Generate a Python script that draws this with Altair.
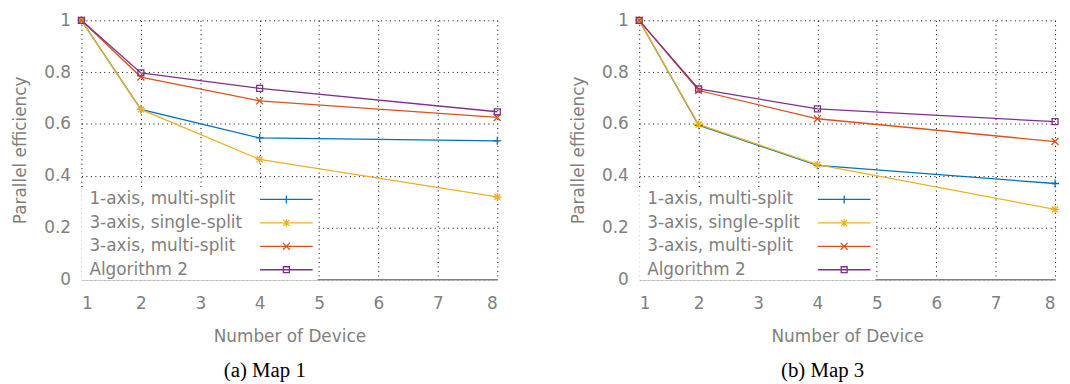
import re
import altair as alt
import pandas as pd

# ---------------- data ----------------
devices = [1, 2, 4, 8]
series_names = ["1-axis, multi-split", "3-axis, single-split",
                "3-axis, multi-split", "Algorithm 2"]

map1_one_axis_multi = [1.0, 0.656, 0.546, 0.535]
map1_three_axis_single = [1.0, 0.656, 0.463, 0.318]
map1_three_axis_multi = [1.0, 0.781, 0.689, 0.625]
map1_algorithm2 = [1.0, 0.797, 0.737, 0.647]

map3_one_axis_multi = [1.0, 0.595, 0.440, 0.370]
map3_three_axis_single = [1.0, 0.598, 0.443, 0.270]
map3_three_axis_multi = [1.0, 0.729, 0.620, 0.532]
map3_algorithm2 = [1.0, 0.735, 0.658, 0.609]

x_ticks = [1, 2, 3, 4, 5, 6, 7, 8]
y_ticks = [0, 0.2, 0.4, 0.6, 0.8, 1]
captions = ["(a) Map 1", "(b) Map 3"]

colors = ["#0072bd", "#edb120", "#d95319", "#7e2f8e"]

# marker glyphs (unit = sqrt(size)/2 px)
marker_paths = [
    "M0,-2V2M-2,0H2",
    "M0,-2V2M-2,0H2M-1.5,-1.5L1.5,1.5M-1.5,1.5L1.5,-1.5",
    "M-1.75,-1.75L1.75,1.75M-1.75,1.75L1.75,-1.75",
    "M-1.5,-1.5H1.5V1.5H-1.5Z",
]
# legend glyphs: line sample with marker, drawn to the right of the label
SH = 98
HL = 13.25


def shift(path):
    out = []
    tokens = re.findall(r"[MLHVZ]|-?\d+(?:\.\d+)?", path)
    i = 0
    cmd = None
    while i < len(tokens):
        t = tokens[i]
        if t in "MLHVZ":
            cmd = t
            out.append(t)
            i += 1
            continue
        if cmd in ("M", "L"):
            out.append(f"{float(tokens[i]) + SH:g},{float(tokens[i + 1]):g}")
            i += 2
        elif cmd == "H":
            out.append(f"{float(t) + SH:g}")
            i += 1
        else:
            out.append(f"{float(t):g}")
            i += 1
    return "".join(out)


legend_paths = [f"M{SH-HL:g},0H{SH+HL:g}" + shift(p) for p in marker_paths]

GRAY = "#7f7f7f"
FONT = "DejaVu Sans"
FS = 17


def make_df(vals):
    rows = []
    for name, ys in zip(series_names, vals):
        for d, v in zip(devices, ys):
            rows.append({"device": d, "eff": v, "series": name})
    return pd.DataFrame(rows)


def panel(vals, caption):
    df = make_df(vals)
    color_scale = alt.Scale(domain=series_names, range=colors)
    base = alt.Chart(df).encode(
        x=alt.X("device:Q", title="Number of Device",
                scale=alt.Scale(domain=[1, 8], nice=False, zero=False),
                axis=alt.Axis(values=x_ticks, format="d", grid=True,
                              gridDash=[1, 3.5], gridColor="#000000",
                              gridOpacity=1, ticks=False, tickSize=0,
                              domainColor="#808080", domainWidth=1.5,
                              labelPadding=16, titlePadding=18)),
        y=alt.Y("eff:Q", title="Parallel efficiency",
                scale=alt.Scale(domain=[0, 1], nice=False),
                axis=alt.Axis(values=y_ticks, format="~g", grid=True,
                              gridDash=[1, 3.5], gridColor="#000000",
                              gridOpacity=1, ticks=False, tickSize=0,
                              domain=False, labelPadding=11,
                              titlePadding=14)),
    )
    lines = base.mark_line(strokeWidth=1.3).encode(
        color=alt.Color("series:N", scale=color_scale, legend=None))
    pts = base.mark_point(filled=False, size=16, strokeWidth=1.3,
                          opacity=1).encode(
        color=alt.Color("series:N", scale=color_scale, legend=None),
        shape=alt.Shape("series:N",
                        scale=alt.Scale(domain=series_names,
                                        range=marker_paths),
                        legend=None))
    leg = alt.Legend(orient="none", legendX=0, legendY=170, title=None,
                     padding=2, fillColor="white", symbolSize=16,
                     symbolStrokeWidth=1.3, symbolOpacity=1,
                     labelFont=FONT, labelFontSize=FS, labelColor=GRAY,
                     labelLimit=400, labelOffset={"expr": "-11"},
                     rowPadding=5.6)
    # legend-only layer: no rows drawn, entries come from the scale domain
    legend_layer = base.mark_point(filled=False, strokeWidth=1.3).encode(
        color=alt.Color("series:N", scale=color_scale, legend=leg),
        shape=alt.Shape("series:N",
                        scale=alt.Scale(domain=series_names,
                                        range=legend_paths),
                        legend=leg)).transform_filter("datum.eff > 2")
    return alt.layer(lines, pts, legend_layer).resolve_scale(
        color="independent", shape="independent"
    ).properties(
        width=419, height=261,
        title=alt.TitleParams(caption, orient="bottom", anchor="middle",
                              frame="bounds", font="Liberation Serif",
                              fontSize=21, fontWeight="normal",
                              color="#000000", offset=15, dx=7),
    )


p1 = panel([map1_one_axis_multi, map1_three_axis_single,
            map1_three_axis_multi, map1_algorithm2], captions[0])
p2 = panel([map3_one_axis_multi, map3_three_axis_single,
            map3_three_axis_multi, map3_algorithm2], captions[1])

chart = alt.hconcat(p1, p2, spacing=65).resolve_scale(
    color="independent", shape="independent"
).properties(
    padding={"left": 3, "top": 2, "right": 0, "bottom": 0}
).configure_view(stroke=None).configure_axis(
    labelFont=FONT, labelFontSize=FS, labelColor=GRAY,
    titleFont=FONT, titleFontSize=FS, titleColor=GRAY,
    titleFontWeight="normal",
)

chart.save("out.html", embed_options={"renderer": "svg", "actions": False})
